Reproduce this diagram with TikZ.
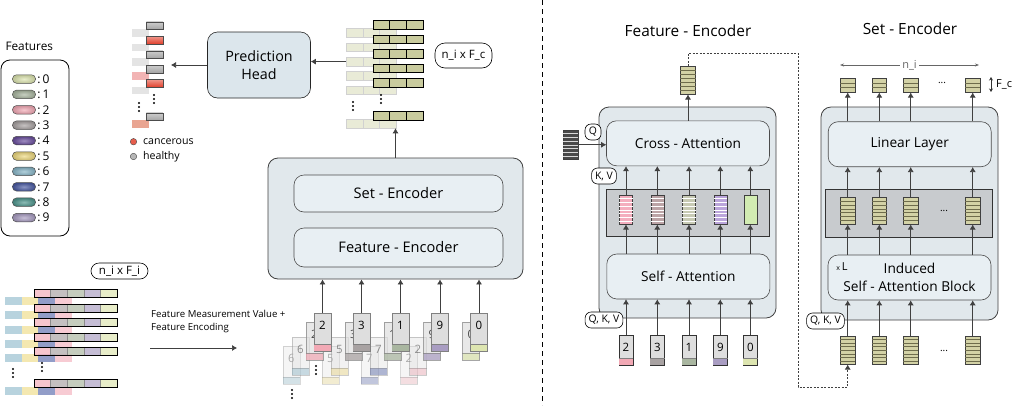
\documentclass[tikz,border=0pt]{standalone}
\usepackage{fontspec}
\setmainfont{Open Sans}
\usepackage{tikz}
\usetikzlibrary{arrows.meta,shapes,positioning,calc}

% colours of the ten features
\definecolor{fzero}{HTML}{DDE5B0}
\definecolor{fone}{HTML}{A9B6A0}
\definecolor{ftwo}{HTML}{F2A9B5}
\definecolor{fthree}{HTML}{A8A2A2}
\definecolor{ffour}{HTML}{6A4E9E}
\definecolor{ffive}{HTML}{EDD87E}
\definecolor{fsix}{HTML}{88B6C8}
\definecolor{fseven}{HTML}{4A5BA3}
\definecolor{feight}{HTML}{4E968D}
\definecolor{fnine}{HTML}{A99DC2}
% other colours
\definecolor{blockfill}{HTML}{E1E8EC}
\definecolor{layerfill}{HTML}{E8EFF3}
\definecolor{headfill}{HTML}{DCE6EC}
\definecolor{bandfill}{HTML}{C8CBCE}
\definecolor{khaki}{HTML}{D3D2A6}
\definecolor{khakiline}{HTML}{6E6C4C}
\definecolor{healthy}{HTML}{A4A4A4}
\definecolor{cancer}{HTML}{E2402C}
\definecolor{paleg}{HTML}{E4E4E4}
\definecolor{palep}{HTML}{F2B4B4}
\definecolor{salmon}{HTML}{E9A592}
\definecolor{fcfront}{HTML}{C9CB9E}
\definecolor{fcback}{HTML}{E9EBD7}
\definecolor{tokgray}{HTML}{DEDEDE}
\definecolor{qdark}{HTML}{4A4A4A}

\tikzstyle{block} = [rectangle, draw=black!75, fill=blockfill, rounded corners=10pt, line width=0.8pt]
\tikzstyle{layer} = [rectangle, draw=black!70, fill=layerfill, rounded corners=10pt, line width=0.6pt,
    align=center, font=\fontsize{13.7}{16}\selectfont]
\tikzstyle{line} = [draw=black!75, line width=0.7pt, -{Latex[length=5pt,width=6pt]}]
\tikzstyle{tag} = [draw=black, fill=white, rounded corners=6pt, line width=0.6pt, inner xsep=3.5pt, inner ysep=2pt,
    minimum height=16pt, font=\fontsize{10.4}{11}\selectfont]
\tikzstyle{key} = [rectangle, draw=black!70, rounded corners=4pt, minimum width=23pt,
    minimum height=8.5pt, inner sep=0pt, line width=0.5pt]
\tikzstyle{outcell} = [rectangle, draw=black!70, line width=0.5pt, minimum width=16.5pt,
    minimum height=7.6pt, inner sep=0pt]
\tikzstyle{bigtok} = [rectangle, draw=black!50, fill=tokgray, minimum width=17pt, minimum height=38pt, inner sep=0pt]
\tikzstyle{smalltok} = [rectangle, draw=black!80, fill=tokgray, minimum width=14pt, minimum height=30pt, inner sep=0pt]

\newcommand{\numtok}[7]{% style, name, x, top, number, band colour, opacity
  \node[#1, opacity=#7, anchor=north] (#2) at (#3,#4) {};
  \fill[#6, opacity=#7] ([shift={(0.3pt,0.3pt)}]#2.south west) rectangle ([shift={(-0.3pt,7.5pt)}]#2.south east);
  \draw[black!50, opacity=#7, line width=0.3pt] ([yshift=7.5pt]#2.south west) -- ([yshift=7.5pt]#2.south east);
  \node[inner sep=0pt, opacity=#7, font=\fontsize{11.5}{12}\selectfont] at ([yshift=-12pt]#2.north) {#5};}

\newcommand{\striptok}[8]{% name, x, top, width, height, fill, stripe colour, stripes
  \node[rectangle, draw=black!75, fill=#6, minimum width=#4pt, minimum height=#5pt, inner sep=0pt,
      line width=0.5pt, anchor=north] (#1) at (#2,#3) {};
  \foreach \s in {1,...,#8}
    \draw[#7, line width=0.5pt] ($(#1.north west)!{\s/(#8+1)}!(#1.south west)$) -- ($(#1.north east)!{\s/(#8+1)}!(#1.south east)$);}

\newcommand{\dotcol}[2]{% three small dots going down from (x,y)
  \foreach \d in {0,4,8} \fill ({#1},{#2+\d}) circle (1.1pt);}

\begin{document}
\begin{tikzpicture}[x=1pt, y=-1pt]
\useasboundingbox (0,0) rectangle (1017,405);

% ---------- left half ----------
% feature legend
\node[anchor=west, font=\fontsize{11.8}{13}\selectfont] (featlabel) at (2,46) {Features};
\node[draw=black, line width=0.8pt, rounded corners=9pt, minimum width=68pt, minimum height=176pt] (legend) at (35,148) {};
\foreach \c [count=\i from 0] in {fzero,fone,ftwo,fthree,ffour,ffive,fsix,fseven,feight,fnine} {
  \node[key, inner color=\c!65!white, outer color=\c!85!black] (key\i) at (24,{79+15.4*\i}) {};
  \node[right=1.5pt of key\i, inner sep=0pt, font=\fontsize{12}{13}\selectfont] {:\,\i};
}

% prediction head and its output
\node[layer, fill=headfill, draw=black!85, minimum width=103pt, minimum height=66pt,
    font=\fontsize{14.3}{18.5}\selectfont] (head) at (259,65) {Prediction\\Head};
\coordinate (outtip) at (171,65);
\foreach \y/\fc/\bc [count=\k] in {21.7/healthy/paleg, 36.1/cancer/paleg, 50.5/healthy/paleg,
    64.9/healthy/palep, 79.3/cancer/paleg, 112.7/healthy/salmon} {
  \fill[\bc] (132,{\y+7.5}) rectangle ++(16.5,7.6);
  \node[outcell, top color=\fc!55!white, bottom color=\fc, anchor=north west] (out\k) at (146,\y) {};
}
\dotcol{154}{95}
\dotcol{139}{103}
\draw[line] (head.west) -- (head.west -| outtip);

\node[circle, draw=black!70, fill=cancer!85, minimum size=6.5pt, inner sep=0pt] (cdot) at (133.5,141.7) {};
\node[right=5pt of cdot, inner sep=1pt, font=\fontsize{10.6}{12}\selectfont] (clabel) {cancerous};
\node[circle, draw=black!70, fill=healthy!80, minimum size=6.5pt, inner sep=0pt] (hdot) at (133.5,156.5) {};
\node[right=5pt of hdot, inner sep=1pt, font=\fontsize{10.6}{12}\selectfont] (hlabel) {healthy};

% n_i x F_c stack
\foreach \y [count=\k] in {20.7,35.1,49.5,63.9,78.3,111.7} {
  \foreach \j in {0,1,2}
    \filldraw[fill=fcback, draw=black!18, line width=0.4pt] ({346+16.7*\j},{\y+7.6}) rectangle ++(16.7,8.6);
  \node[minimum width=50pt, minimum height=8.6pt, inner sep=0pt, anchor=north west] (fcb\k) at (346,{\y+7.6}) {};
  \foreach \j in {0,1,2}
    \filldraw[fill=fcfront, draw=black, line width=0.6pt] ({373+16.7*\j},\y) rectangle ++(16.7,8.6);
  \node[minimum width=50pt, minimum height=8.6pt, inner sep=0pt, anchor=north west] (fc\k) at (373,\y) {};
}
\dotcol{381}{95}
\dotcol{353}{102}
\node[tag, minimum width=57pt, minimum height=25pt, rounded corners=10pt, font=\fontsize{11.5}{12}\selectfont] (fctag) at (463.5,55.5) {n\_i x F\_c};
\draw[line] (fcb3.west) -- (fcb3.west -| head.east);

% model
\node[block, minimum width=255pt, minimum height=121pt] (core) at (395.5,218.5) {};
\node[layer, minimum width=209pt, minimum height=37pt, font=\fontsize{14.6}{17}\selectfont] (setenc) at (398.5,193.5) {Set - Encoder};
\node[layer, minimum width=209pt, minimum height=39pt, font=\fontsize{14.6}{17}\selectfont] (featenc) at (398.5,247.5) {Feature - Encoder};
\draw[line] (core.north) -- (core.north |- fcb6.south);

% input table
\foreach \y [count=\k] in {289.3,303.7,318.1,332.5,346.9,379} {
  \foreach \c [count=\j] in {fsix,ffive,fseven,ftwo}
    \fill[\c!60!white] ({5+16.7*(\j-1)},{\y+7.5}) rectangle ++(16.7,8);
  \foreach \c [count=\j] in {ftwo,fthree,fone,fnine,fzero}
    \fill[\c!85!white, opacity=0.8] ({34+16.6*(\j-1)},\y) rectangle ++(16.6,8);
  \foreach \j in {1,...,4}
    \draw[black!45, line width=0.3pt] ({34+16.6*\j},\y) -- ++(0,8);
  \node[draw=black, line width=0.6pt, minimum width=83pt, minimum height=8pt, inner sep=0pt, anchor=north west] (in\k) at (34,\y) {};
}
\dotcol{42}{363}
\dotcol{13}{369}
\node[tag, minimum width=57pt, rounded corners=8pt, font=\fontsize{11.5}{12}\selectfont] (fitag) at (119.5,271) {n\_i x F\_i};
\node[anchor=west, align=left, inner sep=0pt, font=\fontsize{9.6}{13}\selectfont] (fmtext) at (151,321)
    {Feature Measurement Value +\\Feature Encoding};
\coordinate (fmstart) at (150,348);
\coordinate (fmend) at (237,348);
\draw[line] (fmstart) -- (fmend);

% tokens, back layers first
\numtok{bigtok}{tc1}{291.5}{346}{6}{fsix}{0.3}
\numtok{bigtok}{tc2}{330.5}{346}{5}{ffive}{0.3}
\numtok{bigtok}{tc3}{369.5}{346}{7}{fseven}{0.3}
\numtok{bigtok}{tc4}{409}{346}{2}{ftwo}{0.3}
\numtok{bigtok}{tb1}{300.5}{337}{6}{fsix}{0.4}
\numtok{bigtok}{tb2}{339.5}{337}{5}{ffive}{0.4}
\numtok{bigtok}{tb3}{378.5}{337}{7}{fseven}{0.4}
\numtok{bigtok}{tb4}{418}{337}{2}{ftwo}{0.4}
\numtok{bigtok}{ta1}{314.5}{322}{2}{ftwo}{0.7}
\numtok{bigtok}{ta2}{353.5}{322}{3}{fthree}{0.7}
\numtok{bigtok}{ta3}{392.5}{322}{1}{fone}{0.7}
\numtok{bigtok}{ta4}{432}{322}{9}{fnine}{0.7}
\numtok{bigtok}{ta5}{471}{322}{0}{fzero}{0.7}
\numtok{bigtok}{tok1}{322.5}{313}{2}{ftwo}{1}
\numtok{bigtok}{tok2}{361.5}{313}{3}{fthree}{1}
\numtok{bigtok}{tok3}{400.5}{313}{1}{fone}{1}
\numtok{bigtok}{tok4}{440}{313}{9}{fnine}{1}
\numtok{bigtok}{tok5}{479}{313}{0}{fzero}{1}
\dotcol{316}{366}
\dotcol{292}{390}
\foreach \k in {1,...,5}
  \draw[line] (tok\k.north) -- (tok\k.north |- core.south);

% divider
\draw[black, line width=0.9pt, dash pattern=on 5pt off 4pt] (542,0) -- (542,405);

% ---------- Feature - Encoder ----------
\node[font=\fontsize{15.4}{17}\selectfont] (fetitle) at (688,31) {Feature - Encoder};
\node[block, minimum width=177pt, minimum height=211pt] (feblock) at (687.5,212.5) {};
\node[layer, minimum width=163pt, minimum height=45pt] (cross) at (688,143.3) {Cross - Attention};
\node[rectangle, draw=black!80, fill=bandfill, line width=0.6pt, minimum width=163pt, minimum height=47pt] (feband) at (687.5,212.5) {};
\node[layer, minimum width=163pt, minimum height=45pt] (selfatt) at (688.3,276.5) {Self - Attention};

\foreach \x/\n/\c/\s [count=\k] in {626/2/ftwo/F4AEBE, 657.3/3/fthree/BCA4A6, 689/1/fone/C8CBB4, 720.3/9/fnine/BBA5DB} {
  \definecolor{tmpc}{HTML}{\s}
  \striptok{fb\k}{\x}{195}{13}{29}{tmpc}{white}{7}
  \numtok{smalltok}{fin\k}{\x}{335}{\n}{\c}{1}
}
\node[rectangle, draw=black!75, fill=fzero!90!green!80!white, minimum width=13pt, minimum height=29pt, inner sep=0pt,
    line width=0.5pt, anchor=north] (fb5) at (750.3,195) {};
\numtok{smalltok}{fin5}{750.3}{335}{0}{fzero}{1}
\foreach \k in {1,...,5} {
  \draw[line] (fin\k.north) -- (fin\k.north |- selfatt.south);
  \draw[line] (selfatt.north -| fb\k) -- (fb\k.south);
  \draw[line] (fb\k.north) -- (fb\k.north |- cross.south);
}
\striptok{feout}{688}{66}{15}{28}{khaki}{khakiline}{6}
\draw[line] (cross.north) -- (feout.south);
\striptok{qtok}{570.5}{130}{15}{29}{qdark}{white!85!black}{7}
\draw[line] (qtok.east) -- (qtok.east -| cross.west);
\node[tag, minimum width=16pt] (qtag) at (593,132) {Q};
\node[tag] (kvtag) at (604,176) {K, V};
\node[tag] (qkvtag) at (604,320) {Q, K, V};

% ---------- Set - Encoder ----------
\node[font=\fontsize{15.4}{17}\selectfont] (setitle) at (910,29) {Set - Encoder};
\node[block, minimum width=177pt, minimum height=213pt] (seblock) at (909.5,213.5) {};
\node[layer, minimum width=163pt, minimum height=45pt] (linear) at (909.7,144.2) {Linear Layer};
\node[rectangle, draw=black!80, fill=bandfill, line width=0.6pt, minimum width=167pt, minimum height=48.4pt] (seband) at (908.5,213.5) {};
\node[layer, minimum width=163pt, minimum height=45pt, font=\fontsize{13.7}{17.5}\selectfont] (isab) at (909.5,277.5) {Induced\\Self - Attention Block};
\node[inner sep=0pt, font=\fontsize{11}{12}\selectfont] (xl) at (842,267) {{\fontsize{7}{8}\selectfont x}\,L};

\foreach \x [count=\k] in {847.7,879.3,910.7,972.7} {
  \striptok{sb\k}{\x}{197}{14.5}{27}{khaki}{khakiline}{6}
  \striptok{sin\k}{\x}{336}{14.5}{28}{khaki}{khakiline}{7}
  \striptok{sout\k}{\x}{78}{14.5}{14}{khaki}{khakiline}{2}
  \draw[line] (sin\k.north) -- (sin\k.north |- isab.south);
  \draw[line] (isab.north -| sb\k) -- (sb\k.south);
  \draw[line] (sb\k.north) -- (sb\k.north |- linear.south);
  \draw[line] (linear.north -| sout\k) -- (sout\k.south);
}
\node (sbdots) at (944,211) {...};
\node (sindots) at (944,351) {...};
\node (soutdots) at (942,83) {...};
\node[tag] (seqkv) at (825.5,321) {Q, K, V};

% sizes above the set outputs
\coordinate (nileft) at (840,65);
\coordinate (niright) at (979,65);
\draw[black!60, line width=0.6pt, {Stealth[length=4pt]}-{Stealth[length=4pt]}] (nileft) -- node[fill=white, inner sep=2pt, font=\fontsize{11}{12}\selectfont] {n\_i} (niright);
\coordinate (fctop) at (991,77);
\coordinate (fcbot) at (991,92);
\draw[black!80, line width=0.6pt, {Stealth[length=3.5pt,width=4pt]}-{Stealth[length=3.5pt,width=4pt]}] (fctop) -- (fcbot);
\node[anchor=west, inner sep=0pt, font=\fontsize{11}{12}\selectfont] (fclabel) at (996,84.5) {F\_c};

% dashed link from feature output to set input
\coordinate (dashturn) at (798,387);
\draw[line, line width=0.8pt, dash pattern=on 2pt off 1.5pt] (feout.north) -- ++(0,-13) -| (dashturn) -| (sin1.south);
\end{tikzpicture}
\end{document}
